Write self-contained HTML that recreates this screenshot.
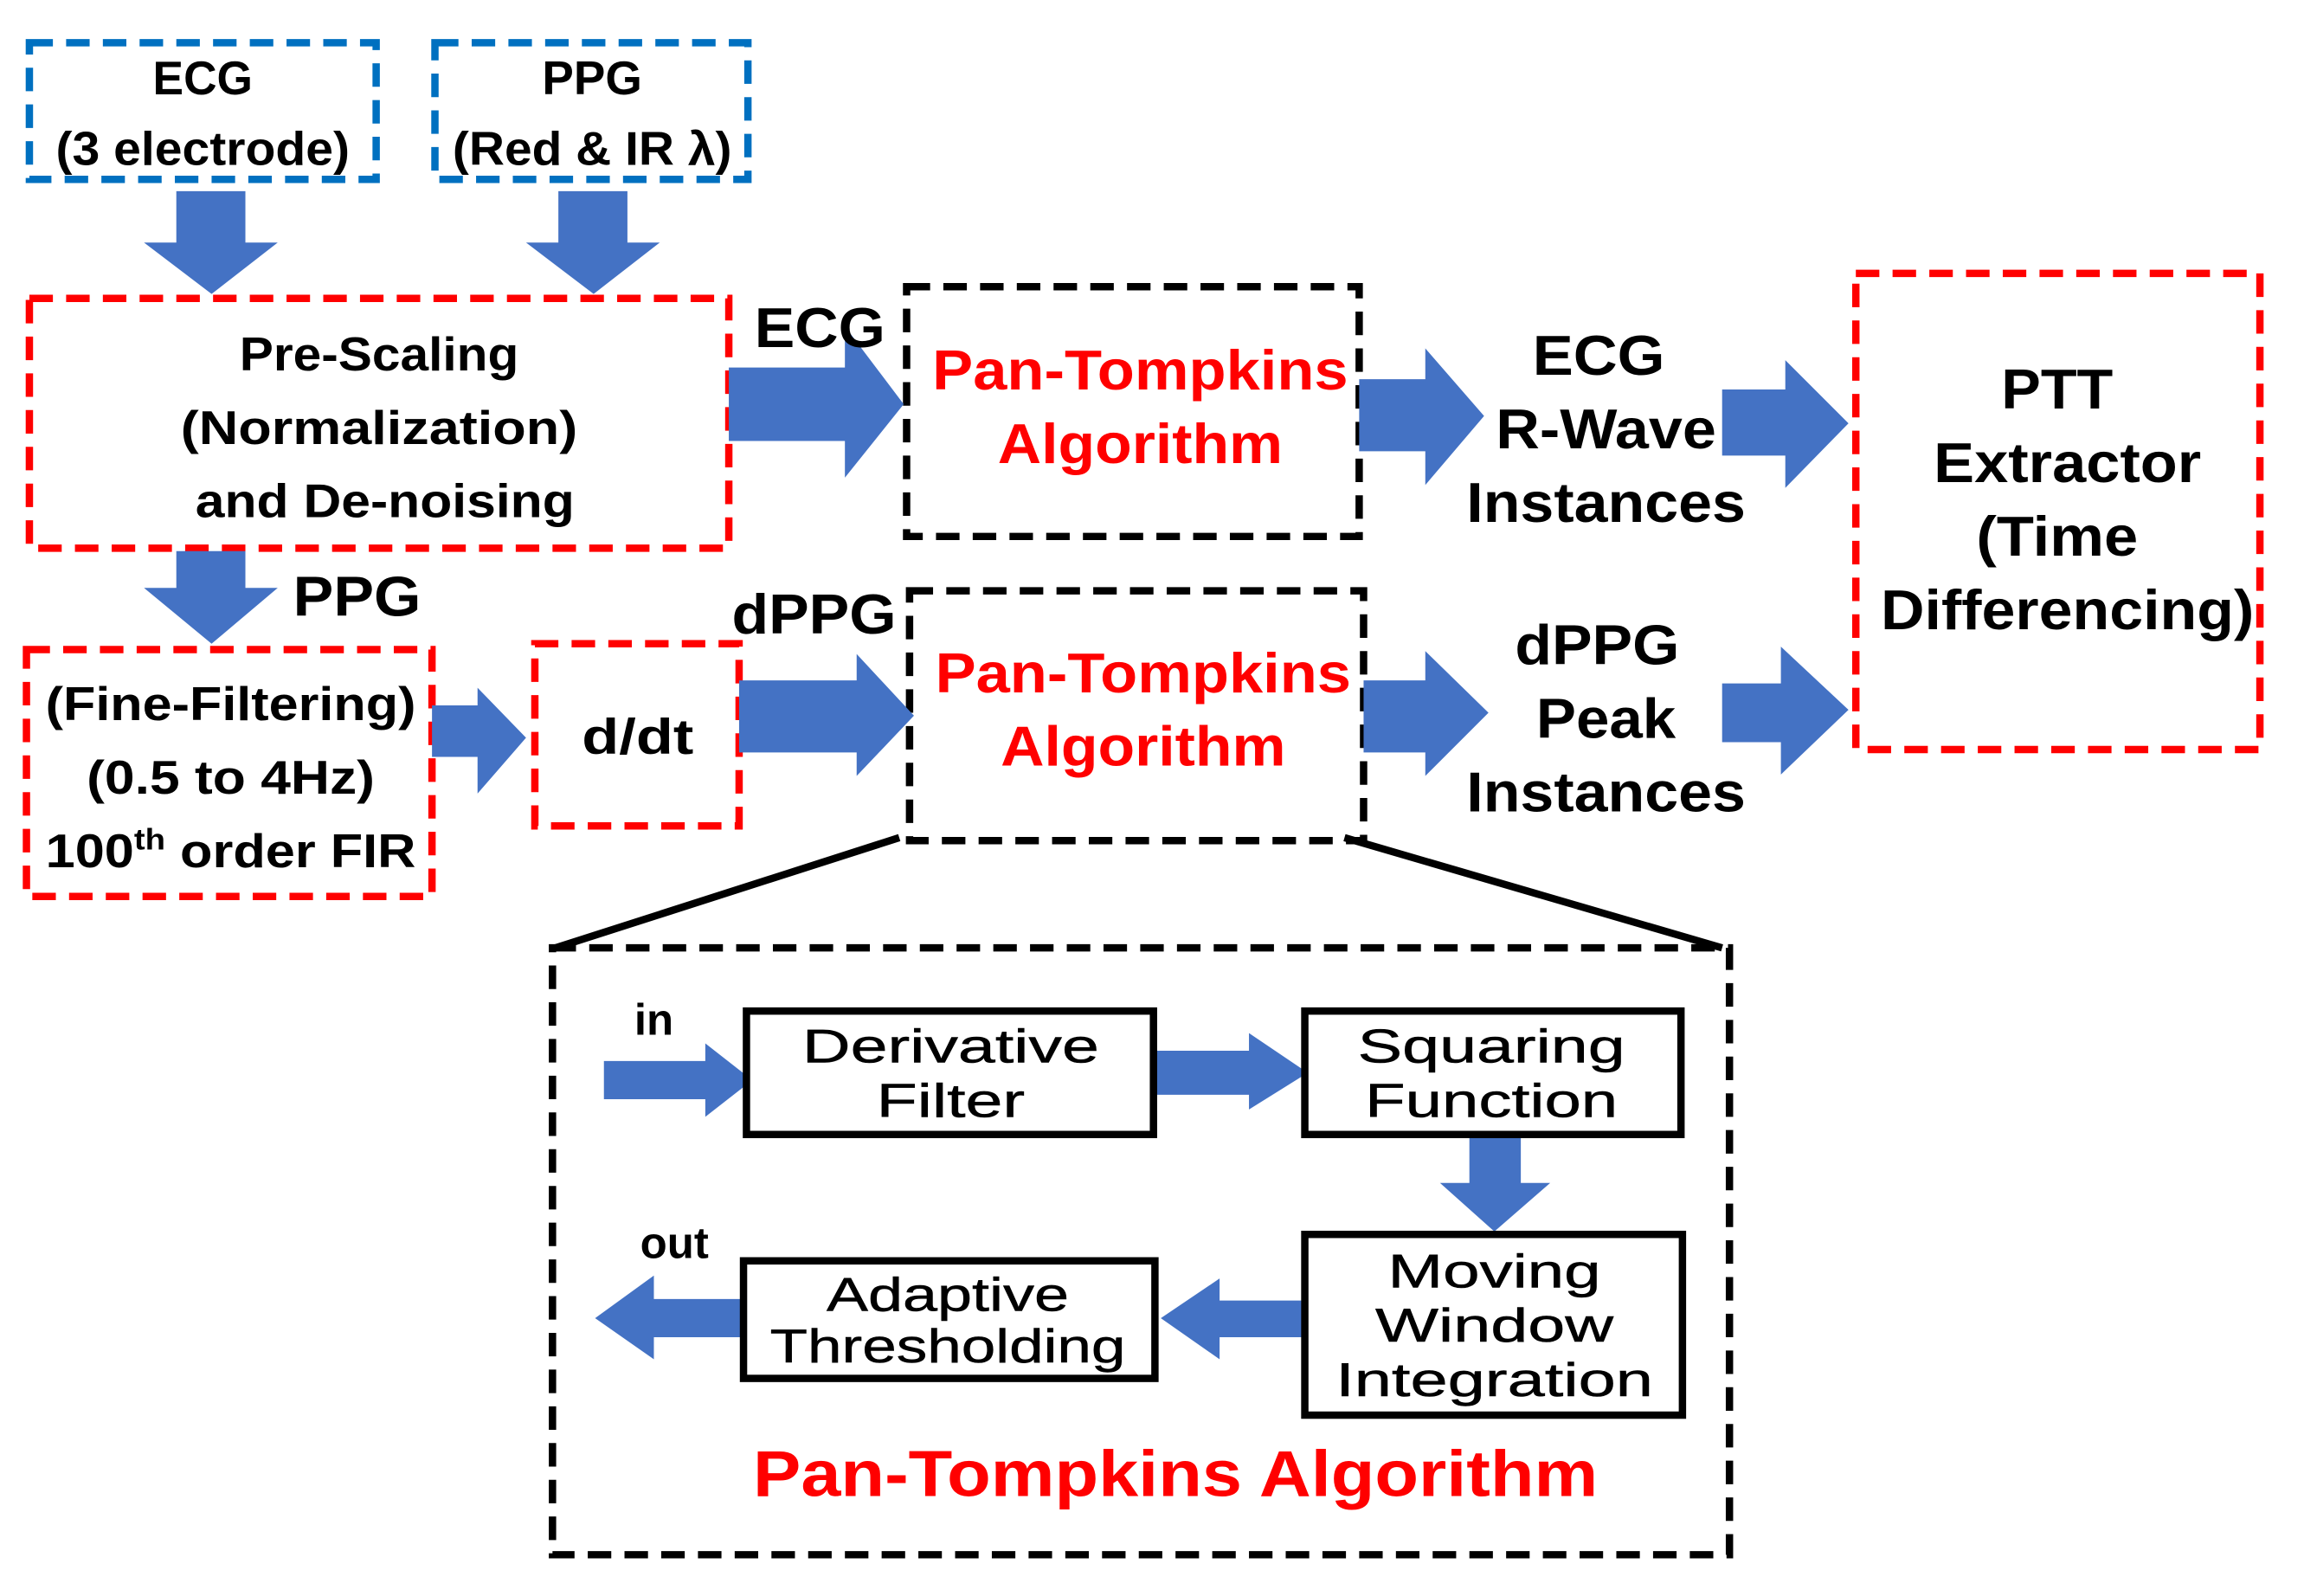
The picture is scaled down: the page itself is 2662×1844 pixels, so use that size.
<!DOCTYPE html>
<html><head><meta charset="utf-8"><style>html,body{margin:0;padding:0;background:#fff}svg{display:block}</style></head>
<body>
<svg width="2662" height="1844" viewBox="0 0 1568 1086" xmlns="http://www.w3.org/2000/svg">
<g fill="none" stroke-width="5" stroke-dasharray="16 9">
<rect x="20" y="29" width="236" height="93" stroke="#0070C0"/>
<rect x="296" y="29" width="213" height="93" stroke="#0070C0"/>
<rect x="20" y="203" width="476" height="170" stroke="#FF0000"/>
<rect x="18" y="442" width="276" height="168" stroke="#FF0000"/>
<rect x="364" y="438" width="139" height="124" stroke="#FF0000"/>
<rect x="1263" y="186" width="275" height="324" stroke="#FF0000"/>
<rect x="617" y="195" width="308" height="170" stroke="#000"/>
<rect x="619" y="402" width="309" height="170" stroke="#000"/>
<rect x="376" y="645" width="801" height="413" stroke="#000"/>
</g>
<g stroke="#000" stroke-width="5"><line x1="612" y1="570" x2="378" y2="645"/><line x1="915" y1="570" x2="1172" y2="645"/></g>
<g fill="#4472C4">
<polygon points="120,130 167,130 167,165 189,165 144,200 98,165 120,165"/>
<polygon points="380,130 427,130 427,165 449,165 404,200 358,165 380,165"/>
<polygon points="120,375 167,375 167,400 189,400 144,438 98,400 120,400"/>
<polygon points="496,250 575,250 575,222 615,275 575,325 575,300 496,300"/>
<polygon points="925,258 970,258 970,237 1010,283 970,330 970,307 925,307"/>
<polygon points="1172,265 1215,265 1215,245 1258,288 1215,332 1215,310 1172,310"/>
<polygon points="294,480 325,480 325,468 358,502 325,540 325,515 294,515"/>
<polygon points="503,463 583,463 583,445 622,487 583,528 583,512 503,512"/>
<polygon points="928,463 970,463 970,443 1013,485 970,528 970,512 928,512"/>
<polygon points="1172,465 1212,465 1212,440 1258,483 1212,527 1212,505 1172,505"/>
<polygon points="411,722 480,722 480,710 512,735 480,760 480,748 411,748"/>
<polygon points="785,715 850,715 850,703 890,730 850,755 850,745 785,745"/>
<polygon points="1000,773 1035,773 1035,805 1055,805 1017,838 980,805 1000,805"/>
<polygon points="890,885 830,885 830,870 790,897 830,925 830,910 890,910"/>
<polygon points="506,884 445,884 445,868 405,897 445,925 445,910 506,910"/>
</g>
<g fill="#fff" stroke="#000" stroke-width="5">
<rect x="508" y="688" width="277" height="84"/>
<rect x="888" y="688" width="256" height="84"/>
<rect x="888" y="840" width="257" height="123"/>
<rect x="506" y="858" width="280" height="80"/>
</g>
<g font-family="Liberation Sans, sans-serif" font-weight="bold" text-anchor="middle" fill="#000">
<g font-size="32">
<text x="138" y="64" textLength="68" lengthAdjust="spacingAndGlyphs">ECG</text>
<text x="138" y="112" textLength="200" lengthAdjust="spacingAndGlyphs">(3 electrode)</text>
<text x="403" y="64" textLength="68" lengthAdjust="spacingAndGlyphs">PPG</text>
<text x="403" y="112" textLength="190" lengthAdjust="spacingAndGlyphs">(Red &amp; IR λ)</text>
<text x="258" y="252" textLength="190" lengthAdjust="spacingAndGlyphs">Pre-Scaling</text>
<text x="258" y="302" textLength="270" lengthAdjust="spacingAndGlyphs">(Normalization)</text>
<text x="262" y="352" textLength="258" lengthAdjust="spacingAndGlyphs">and De-noising</text>
<text x="157" y="490" textLength="252" lengthAdjust="spacingAndGlyphs">(Fine-Filtering)</text>
<text x="157" y="540" textLength="196" lengthAdjust="spacingAndGlyphs">(0.5 to 4Hz)</text>
<text x="157" y="590" textLength="252" lengthAdjust="spacingAndGlyphs">100<tspan font-size="20" dy="-12">th</tspan><tspan dy="12"> order FIR</tspan></text>
<text x="434" y="513" font-size="34" textLength="76" lengthAdjust="spacingAndGlyphs">d/dt</text>
</g>
<g font-size="38">
<text x="558" y="236" textLength="89" lengthAdjust="spacingAndGlyphs">ECG</text>
<text x="554" y="431" textLength="112" lengthAdjust="spacingAndGlyphs">dPPG</text>
<text x="243" y="419" textLength="87" lengthAdjust="spacingAndGlyphs">PPG</text>
<text x="1088" y="255" textLength="90" lengthAdjust="spacingAndGlyphs">ECG</text>
<text x="1093" y="305" textLength="150" lengthAdjust="spacingAndGlyphs">R-Wave</text>
<text x="1093" y="355" textLength="190" lengthAdjust="spacingAndGlyphs">Instances</text>
<text x="1087" y="452" textLength="112" lengthAdjust="spacingAndGlyphs">dPPG</text>
<text x="1093" y="502" textLength="95" lengthAdjust="spacingAndGlyphs">Peak</text>
<text x="1093" y="552" textLength="190" lengthAdjust="spacingAndGlyphs">Instances</text>
<text x="1400" y="278" textLength="76" lengthAdjust="spacingAndGlyphs">PTT</text>
<text x="1407" y="328" textLength="182" lengthAdjust="spacingAndGlyphs">Extractor</text>
<text x="1400" y="378" textLength="110" lengthAdjust="spacingAndGlyphs">(Time</text>
<text x="1407" y="428" textLength="254" lengthAdjust="spacingAndGlyphs">Differencing)</text>
</g>
<g font-size="38" fill="#FF0000">
<text x="776" y="265" textLength="283" lengthAdjust="spacingAndGlyphs">Pan-Tompkins</text>
<text x="776" y="315" textLength="194" lengthAdjust="spacingAndGlyphs">Algorithm</text>
<text x="778" y="471" textLength="283" lengthAdjust="spacingAndGlyphs">Pan-Tompkins</text>
<text x="778" y="521" textLength="194" lengthAdjust="spacingAndGlyphs">Algorithm</text>
<text x="800" y="1018" font-size="44" textLength="575" lengthAdjust="spacingAndGlyphs">Pan-Tompkins Algorithm</text>
</g>
<text x="445" y="704" font-size="30">in</text>
<text x="459" y="856" font-size="30">out</text>
<g font-weight="normal" font-size="32" stroke="#000" stroke-width="0.3">
<text x="647" y="723" textLength="202" lengthAdjust="spacingAndGlyphs">Derivative</text>
<text x="647" y="760" textLength="101" lengthAdjust="spacingAndGlyphs">Filter</text>
<text x="1015" y="723" textLength="182" lengthAdjust="spacingAndGlyphs">Squaring</text>
<text x="1015" y="760" textLength="172" lengthAdjust="spacingAndGlyphs">Function</text>
<text x="1017" y="876" textLength="145" lengthAdjust="spacingAndGlyphs">Moving</text>
<text x="1017" y="913" textLength="162" lengthAdjust="spacingAndGlyphs">Window</text>
<text x="1017" y="950" textLength="216" lengthAdjust="spacingAndGlyphs">Integration</text>
<text x="645" y="892" textLength="165" lengthAdjust="spacingAndGlyphs">Adaptive</text>
<text x="645" y="927" textLength="242" lengthAdjust="spacingAndGlyphs">Thresholding</text>
</g>
</g>
</svg>
</body></html>
